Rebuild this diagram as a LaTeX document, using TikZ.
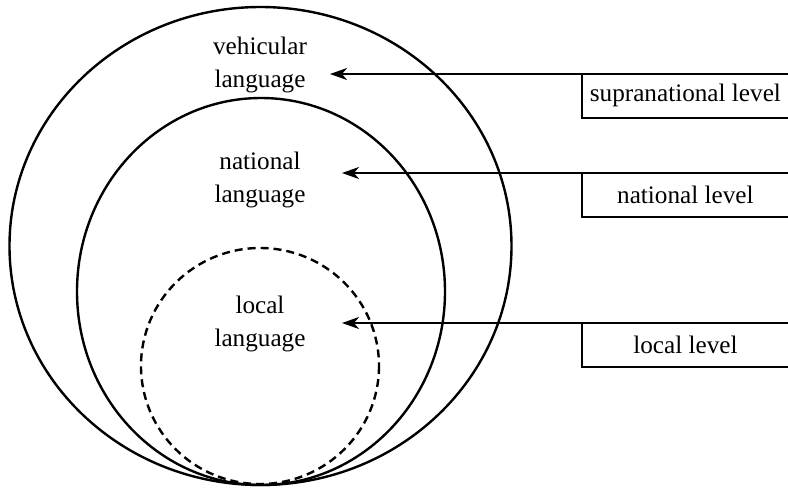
\documentclass[tikz,border=0pt]{standalone}
\usepackage{fontspec}
\setmainfont{Liberation Serif}
\usetikzlibrary{arrows.meta,positioning}

\begin{document}
\begin{tikzpicture}[x=0.5pt,y=-0.5pt]
	\useasboundingbox (0,0) rectangle (788,488);
	% Define the styles
	\tikzstyle{ring} = [line width=1.2pt];
	\tikzstyle{lang} = [align=center, font=\fontsize{12.6}{16.5}\selectfont];
	\tikzstyle{levelbox} = [anchor=north west, inner sep=0pt, minimum width=103pt, minimum height=21.5pt, font=\fontsize{12.6}{15}\selectfont];
	\tikzstyle{pointer} = [line width=0.9pt, -{Stealth[length=8.5pt,width=6pt,inset=2.5pt]}];
	
	% The three nested language areas
	\draw[ring] (260.5,246) ellipse [x radius=251, y radius=239];
	\draw[ring] (261,291.5) ellipse [x radius=184, y radius=193.5];
	\draw[ring, dash pattern=on 4pt off 2.5pt] (260,366) ellipse [x radius=119, y radius=118];
	
	\node[lang] (vehicular) at (260,65) {vehicular\\language};
	\node[lang] (national) at (260,180) {national\\language};
	\node[lang] (local) at (260,324) {local\\language};
	
	% Arrow tips next to the labels
	\coordinate (vtip) at (330,74);
	\coordinate (ntip) at (342,173);
	\coordinate (ltip) at (342,323);
	
	% Draw 3 level boxes on the right side
	\foreach \name/\y/\txt/\tip in {suplevel/74/supranational level/vtip, natlevel/173/national level/ntip, loclevel/323/local level/ltip}
	{
		\node[levelbox] (\name) at (582,\y) {\txt};
		\draw[line width=0.9pt] (\name.north west) -- (\name.south west) -- (\name.south east);
		\draw[pointer] (\name.north east) -- (\tip);
	}
\end{tikzpicture}
\end{document}
